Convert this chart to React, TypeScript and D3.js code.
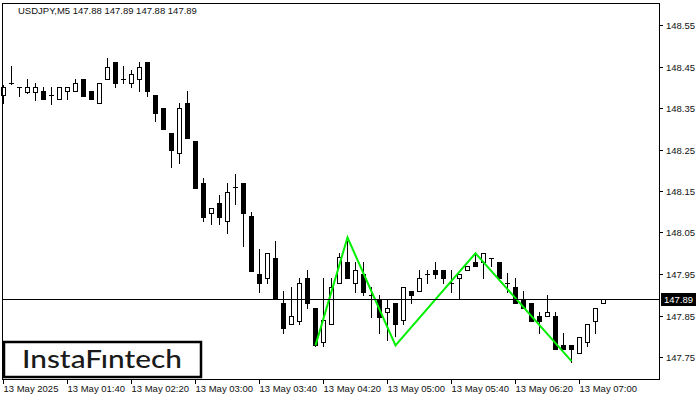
import React from 'react';
import * as d3 from 'd3';

const width = 700;
const height = 400;
const frameLeft = 2;
const frameTop = 3;
const frameRight = 659;
const frameBottom = 380;

// OHLC, USDJPY M5, one bar every 5 minutes starting 01:00
const opens = [
  148.381, 148.410, 148.400, 148.389, 148.389, 148.392, 148.381, 148.371, 148.390, 148.390,
  148.419, 148.390, 148.361, 148.419, 148.460, 148.419, 148.410, 148.419, 148.460, 148.381,
  148.349, 148.289, 148.241, 148.361, 148.270, 148.169, 148.098, 148.120, 148.078, 148.159,
  148.169, 148.090, 147.950, 147.940, 147.989, 147.879, 147.829, 147.837, 147.940, 147.867,
  147.787, 147.830, 147.929, 147.980, 147.929, 147.950, 147.899, 147.889, 147.858, 147.879,
  147.839, 147.909, 147.909, 147.950, 147.960, 147.960, 147.929, 147.940, 147.960, 147.980,
  147.980, 147.988, 147.980, 147.928, 147.919, 147.889, 147.879, 147.849, 147.849, 147.849,
  147.779, 147.779, 147.759, 147.787, 147.837, 147.880,
];
const highs = [
  148.405, 148.451, 148.400, 148.420, 148.410, 148.400, 148.400, 148.400, 148.400, 148.420,
  148.419, 148.390, 148.410, 148.470, 148.460, 148.451, 148.442, 148.460, 148.460, 148.381,
  148.349, 148.289, 148.361, 148.391, 148.270, 148.181, 148.108, 148.140, 148.169, 148.191,
  148.169, 148.099, 148.010, 148.000, 148.030, 147.909, 147.919, 147.940, 147.960, 147.867,
  147.940, 147.940, 148.000, 148.030, 147.980, 147.980, 147.919, 147.899, 147.889, 147.879,
  147.919, 147.909, 147.960, 147.960, 147.980, 147.960, 147.960, 147.950, 147.969, 148.000,
  148.000, 147.988, 147.980, 147.952, 147.940, 147.910, 147.879, 147.859, 147.899, 147.859,
  147.809, 147.779, 147.797, 147.830, 147.867, 147.890,
];
const lows = [
  148.362, 148.408, 148.380, 148.386, 148.369, 148.371, 148.360, 148.371, 148.371, 148.390,
  148.380, 148.371, 148.361, 148.419, 148.400, 148.410, 148.400, 148.390, 148.380, 148.319,
  148.299, 148.209, 148.218, 148.278, 148.158, 148.078, 148.070, 148.070, 148.048, 148.119,
  148.018, 147.958, 147.907, 147.928, 147.889, 147.807, 147.829, 147.829, 147.867, 147.776,
  147.776, 147.830, 147.929, 147.940, 147.907, 147.899, 147.847, 147.807, 147.791, 147.800,
  147.830, 147.879, 147.909, 147.928, 147.940, 147.928, 147.907, 147.889, 147.960, 147.969,
  147.940, 147.969, 147.940, 147.907, 147.879, 147.867, 147.837, 147.807, 147.849, 147.769,
  147.769, 147.739, 147.759, 147.776, 147.807, 147.880,
];
const closes = [
  148.400, 148.410, 148.400, 148.400, 148.400, 148.371, 148.381, 148.400, 148.400, 148.410,
  148.380, 148.371, 148.410, 148.450, 148.410, 148.419, 148.431, 148.450, 148.390, 148.339,
  148.299, 148.249, 148.349, 148.278, 148.158, 148.088, 148.108, 148.088, 148.148, 148.159,
  148.098, 147.958, 147.928, 148.000, 147.889, 147.819, 147.849, 147.928, 147.879, 147.778,
  147.839, 147.919, 147.990, 147.940, 147.960, 147.907, 147.899, 147.847, 147.867, 147.830,
  147.919, 147.899, 147.940, 147.950, 147.950, 147.940, 147.929, 147.950, 147.969, 147.969,
  148.000, 147.988, 147.940, 147.928, 147.879, 147.867, 147.837, 147.837, 147.859, 147.769,
  147.769, 147.769, 147.797, 147.830, 147.867, 147.890,
];

// pattern drawn in green: bar index and price of each vertex
const patternBars = [39, 43, 49, 59, 71];
const patternPrices = [147.778, 148.038, 147.778, 148.000, 147.740];

const yTickValues = [148.55, 148.45, 148.35, 148.25, 148.15, 148.05, 147.95, 147.85, 147.75];
const xTickBars = [0, 8, 16, 24, 32, 40, 48, 56, 64, 72];
const xTickLabels = [
  '13 May 2025', '13 May 01:40', '13 May 02:20', '13 May 03:00', '13 May 03:40',
  '13 May 04:20', '13 May 05:00', '13 May 05:40', '13 May 06:20', '13 May 07:00',
];
const currentPrice = 147.89;
const titleText = 'USDJPY,M5  147.88 147.89 147.88 147.89';

const font = "'Liberation Sans', Arial, sans-serif";

const App = () => {
  const xScale = d3.scaleLinear().domain([0, 75]).range([3.5, 603.5]);
  const yScale = d3.scaleLinear().domain([147.75, 148.55]).range([357, 25]);
  const py = (p: number) => Math.round(yScale(p)) + 0.5;

  const patternLine = d3.line<number>()
    .x((_, i) => xScale(patternBars[i]))
    .y(d => yScale(d))(patternPrices);

  return (
    <svg width={width} height={height}
      style={{position: 'absolute', left: 0, top: 0, background: 'white'}}>
      <rect x={0} y={0} width={width} height={height} fill="white"/>
      <text x={18} y={14} fontFamily={font} fontSize={9.5} fill="#111">{titleText}</text>

      {opens.map((o, i) => {
        const c = closes[i];
        const cx = xScale(i);
        const top = py(Math.max(o, c));
        const bot = py(Math.min(o, c));
        const hi = py(highs[i]);
        const lo = py(lows[i]);
        const doji = Math.abs(o - c) < 0.002;
        return (
          <g key={i}>
            <line x1={cx} x2={cx} y1={hi - 0.5} y2={lo + 0.5} stroke="black" strokeWidth={1}/>
            {doji
              ? <line x1={cx - 2.5} x2={cx + 2.5} y1={top} y2={top} stroke="black" strokeWidth={1}/>
              : <rect x={cx - 2} y={top} width={4} height={bot - top}
                  fill={c > o ? 'white' : 'black'} stroke="black" strokeWidth={1}/>}
          </g>
        );
      })}

      <path d={patternLine || ''} fill="none" stroke="#00f000" strokeWidth={2}/>

      <line x1={frameLeft} x2={frameRight} y1={py(currentPrice)} y2={py(currentPrice)} stroke="black" strokeWidth={1}/>

      {/* logo */}
      <rect x={4} y={342} width={197} height={35} fill="white" stroke="black" strokeWidth={2.5}/>
      <text x={22} y={367.5} fontFamily="Lato, 'Open Sans', sans-serif" fontSize={24} fontWeight={500}
        textLength={160} lengthAdjust="spacingAndGlyphs" fill="#1a1a1a">InstaFıntech</text>

      <rect x={frameLeft + 0.5} y={frameTop + 0.5} width={frameRight - frameLeft} height={frameBottom - frameTop - 1}
        fill="none" stroke="black" strokeWidth={1}/>

      {yTickValues.map(v => (
        <g key={v}>
          <line x1={frameRight + 0.5} x2={frameRight + 4} y1={py(v)} y2={py(v)} stroke="black"/>
          <text x={666} y={py(v) + 3.5} fontFamily={font} fontSize={9.5} fill="#111">{v.toFixed(2)}</text>
        </g>
      ))}

      <rect x={661} y={py(currentPrice) - 6.5} width={35} height={13} fill="black"/>
      <text x={664} y={py(currentPrice) + 3.5} fontFamily={font} fontSize={9.5} fill="white">{currentPrice.toFixed(2)}</text>

      {xTickBars.map((b, i) => (
        <g key={b}>
          <line x1={Math.round(xScale(b)) - 0.5} x2={Math.round(xScale(b)) - 0.5} y1={frameBottom - 0.5} y2={frameBottom + 4}
            stroke="black"/>
          <text x={Math.round(xScale(b)) - 0.5} y={392} fontFamily={font} fontSize={9.5} fill="#111">{xTickLabels[i]}</text>
        </g>
      ))}
    </svg>
  );
};

export default App;
